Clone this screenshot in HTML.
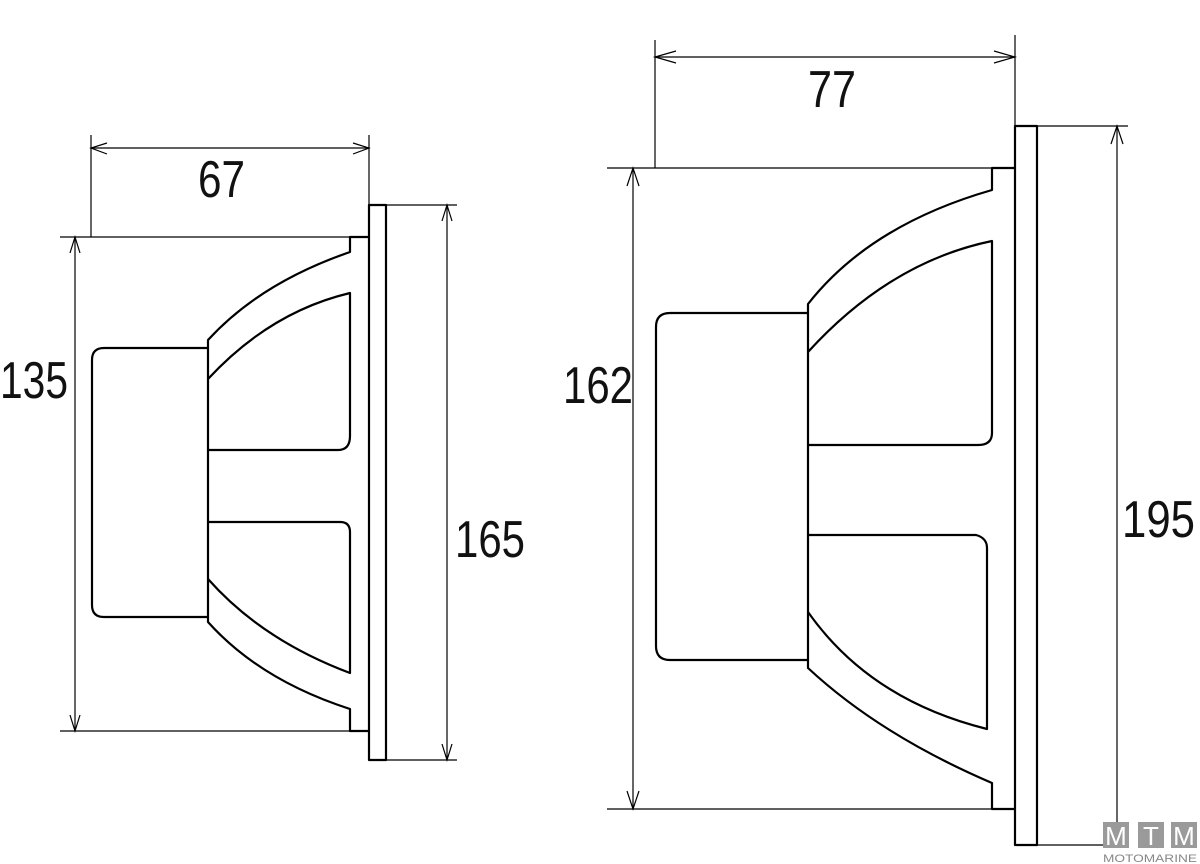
<!DOCTYPE html>
<html><head><meta charset="utf-8"><style>html,body{margin:0;padding:0;background:#fff}svg{display:block}</style></head>
<body>
<svg width="1200" height="864" viewBox="0 0 1200 864" xmlns="http://www.w3.org/2000/svg">
<g fill="none" stroke="#000" stroke-width="1.2">
<!-- LEFT dims -->
<line x1="91" y1="135" x2="91" y2="237"/>
<line x1="369" y1="135" x2="369" y2="205"/>
<line x1="91" y1="148" x2="369" y2="148"/>
<polyline points="107,143 91,148 107,154"/>
<polyline points="353,143 369,148 353,154"/>
<line x1="60" y1="237" x2="369" y2="237"/>
<line x1="60" y1="731" x2="369" y2="731"/>
<line x1="75" y1="237" x2="75" y2="731"/>
<polyline points="70,253 75,237 80,253"/>
<polyline points="70,715 75,731 80,715"/>
<line x1="386" y1="205" x2="457" y2="205"/>
<line x1="386" y1="760" x2="457" y2="760"/>
<line x1="447" y1="205" x2="447" y2="760"/>
<polyline points="442,221 447,205 452,221"/>
<polyline points="442,744 447,760 452,744"/>
<!-- RIGHT dims -->
<line x1="655" y1="40" x2="655" y2="168"/>
<line x1="1015" y1="35" x2="1015" y2="125"/>
<line x1="655" y1="57" x2="1015" y2="57"/>
<polyline points="676,51 655,57 676,63"/>
<polyline points="994,51 1015,57 994,63"/>
<line x1="607" y1="168" x2="1015" y2="168"/>
<line x1="607" y1="809" x2="1015" y2="809"/>
<line x1="633" y1="168" x2="633" y2="809"/>
<polyline points="627,186 633,168 639,186"/>
<polyline points="627,791 633,809 639,791"/>
<line x1="1037" y1="126" x2="1128" y2="126"/>
<line x1="1037" y1="845" x2="1128" y2="845"/>
<line x1="1117" y1="126" x2="1117" y2="845"/>
<polyline points="1111,144 1117,126 1123,144"/>
</g>
<g fill="none" stroke="#000" stroke-width="2.2" stroke-linejoin="round">
<!-- LEFT speaker -->
<rect x="369" y="205" width="17" height="555"/>
<path d="M369,237 H350 V252 Q260,283 208,340 V622 Q260,680 350,709 V731 H369"/>
<path d="M208,348 H104 Q92,348 92,360 V605 Q92,617 104,617 H208"/>
<path d="M208,379 Q270,312 350,293 V436 Q350,450 338,450 H208"/>
<path d="M208,522 H340 Q350,522 350,532 V673 Q262,640 208,579"/>
<!-- RIGHT speaker -->
<rect x="1015" y="126" width="22" height="719"/>
<path d="M1015,168 H992 V190 Q870,225 808,304 V668 Q880,735 992,783 V809 H1015"/>
<path d="M808,313 H670 Q656,313 656,327 V646 Q656,660 670,660 H808"/>
<path d="M808,352 Q890,262 992,241 V433 Q992,445 978,445 H808"/>
<path d="M808,535 H976 Q987,538 987,548 V729 Q870,700 808,612"/>
</g>
<g font-family="'Liberation Sans', sans-serif" font-size="52" fill="#111">
<text x="0" y="398" textLength="68" lengthAdjust="spacingAndGlyphs">135</text>
<text x="198" y="197" textLength="47" lengthAdjust="spacingAndGlyphs">67</text>
<text x="455" y="557" textLength="70" lengthAdjust="spacingAndGlyphs">165</text>
<text x="808" y="107" textLength="48" lengthAdjust="spacingAndGlyphs">77</text>
<text x="563" y="403" textLength="70" lengthAdjust="spacingAndGlyphs">162</text>
<text x="1122" y="537" textLength="73" lengthAdjust="spacingAndGlyphs">195</text>
</g>
<!-- logo -->
<g font-family="'Liberation Sans', sans-serif">
<rect x="1103" y="822" width="26" height="26" fill="#9a9a9a"/>
<rect x="1138" y="822" width="26" height="26" fill="#9a9a9a"/>
<rect x="1171" y="822" width="26" height="26" fill="#9a9a9a"/>
<text x="1116" y="845" font-size="26" fill="#fff" text-anchor="middle">M</text>
<text x="1151" y="845" font-size="26" fill="#fff" text-anchor="middle">T</text>
<text x="1184" y="845" font-size="26" fill="#fff" text-anchor="middle">M</text>
<text x="1103" y="862" font-size="11" fill="#888" textLength="94" lengthAdjust="spacingAndGlyphs">MOTOMARINE</text>
</g>
</svg>
</body></html>
